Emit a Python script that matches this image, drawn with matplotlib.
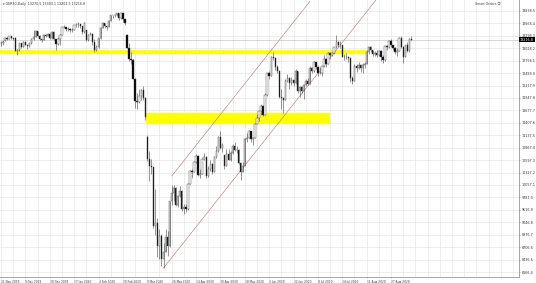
import matplotlib
matplotlib.use('Agg')
import matplotlib.pyplot as plt
import matplotlib.transforms as mtransforms

# daily candles, GER30 (one bar per trading day)
opens = [13150, 13137, 13200, 13246, 13232, 13287, 13245, 13250, 12964, 12989, 13140, 13055,
         13166, 13105, 13071, 13141, 13221, 13283, 13407, 13288, 13222, 13212, 13319, 13300,
         13337, 13249, 13386, 13219, 13127, 13227, 13321, 13495, 13483, 13452, 13456, 13432,
         13429, 13526, 13548, 13556, 13515, 13388, 13420, 13205, 13324, 13345, 13157, 12982,
         13046, 13250, 13479, 13575, 13514, 13494, 13627, 13749, 13745, 13744, 13784, 13681,
         13789, 13664, 13320, 13035, 12790, 12774, 12367, 11890, 11857, 11985, 12128, 11944,
         11100, 10625, 10475, 10439, 9161, 9232, 8742, 8939, 8441, 8610, 8929, 8741,
         9701, 9874, 10000, 9633, 9815, 9936, 9544, 9571, 9525, 10075, 10356, 10333,
         10565, 10696, 10280, 10301, 10626, 10676, 10250, 10415, 10514, 10336, 10660, 10796,
         11108, 10862, 10700, 10467, 10730, 10606, 10759, 10904, 10825, 10820, 10543, 10337,
         10465, 11059, 11075, 11224, 11066, 11074, 11391, 11505, 11657, 11781, 11587, 12021,
         12487, 12431, 12848, 12820, 12617, 12530, 11970, 11949, 11911, 12316, 12382, 12282,
         12331, 12263, 12524, 12094, 12178, 12089, 12232, 12311, 12260, 12608, 12528, 12733,
         12617, 12494, 12489, 12633, 12800, 12697, 12931, 12874, 12920, 13046, 13171, 13104,
         13103, 12838, 12839, 12836, 12822, 12379, 12313, 12647, 12600, 12660, 12591, 12674,
         12687, 12947, 13058, 12993, 12901, 12920, 12881, 12977, 12830, 12765, 13067, 13062,
         13190, 13096, 13033, 12945, 12974, 13243, 13057, 12843, 13100, 12968, 13237]
highs = [13190, 13200, 13260, 13270, 13300, 13290, 13260, 13280, 13010, 13150, 13150, 13190,
         13190, 13120, 13160, 13260, 13420, 13430, 13410, 13310, 13240, 13330, 13340, 13360,
         13350, 13400, 13400, 13230, 13280, 13330, 13500, 13530, 13490, 13480, 13470, 13460,
         13540, 13570, 13600, 13560, 13520, 13590, 13430, 13340, 13390, 13350, 13240, 13100,
         13260, 13490, 13590, 13580, 13520, 13640, 13760, 13760, 13770, 13790, 13790, 13800,
         13800, 13670, 13330, 13150, 12950, 12800, 12380, 12050, 12140, 12150, 12200, 11960,
         11150, 10800, 10620, 10450, 9980, 9330, 9100, 9000, 8800, 9100, 9050, 9720,
         10050, 10050, 10020, 9830, 10040, 9950, 9650, 9650, 10100, 10380, 10400, 10580,
         10720, 10700, 10400, 10650, 10750, 10680, 10460, 10600, 10530, 10680, 10900, 11130,
         11220, 10960, 10710, 10830, 10830, 10800, 10950, 10990, 10900, 10850, 10560, 10560,
         11080, 11180, 11260, 11230, 11100, 11400, 11600, 11670, 11820, 11800, 12050, 12500,
         12540, 12870, 12950, 12830, 12660, 12550, 12150, 11960, 12350, 12460, 12400, 12400,
         12350, 12580, 12530, 12200, 12200, 12250, 12350, 12380, 12640, 12620, 12750, 12740,
         12650, 12630, 12640, 12880, 12810, 12950, 12940, 12950, 13060, 13310, 13180, 13180,
         13110, 12900, 12920, 12860, 12830, 12420, 12680, 12680, 12720, 12680, 12700, 12730,
         13000, 13070, 13080, 13000, 12960, 12990, 13000, 12990, 12880, 13080, 13100, 13200,
         13230, 13100, 13050, 13030, 13280, 13300, 13080, 13110, 13160, 13250, 13300]
lows = [13080, 13100, 13190, 13200, 13220, 13220, 13200, 12960, 12880, 12970, 13030, 13050,
        13090, 13020, 13050, 13130, 13200, 13280, 13270, 13200, 13170, 13200, 13280, 13290,
        13230, 13240, 13200, 12990, 13110, 13100, 13310, 13460, 13410, 13400, 13380, 13390,
        13420, 13500, 13500, 13460, 13330, 13370, 13190, 13190, 13310, 13110, 12950, 12960,
        13040, 13240, 13460, 13470, 13430, 13490, 13620, 13690, 13710, 13730, 13650, 13670,
        13600, 13540, 13030, 12760, 12690, 12350, 11720, 11700, 11830, 11900, 11900, 11480,
        10580, 10150, 10300, 9130, 8980, 8500, 8440, 8300, 8255, 8600, 8520, 8700,
        9630, 9700, 9600, 9570, 9790, 9500, 9420, 9470, 9520, 10070, 10220, 10330,
        10530, 10250, 10210, 10290, 10600, 10200, 10240, 10370, 10290, 10330, 10640, 10780,
        10850, 10780, 10400, 10460, 10590, 10580, 10740, 10800, 10760, 10520, 10160, 10330,
        10460, 11000, 11070, 11000, 10920, 11070, 11380, 11450, 11570, 11550, 11580, 12000,
        12360, 12420, 12780, 12560, 12480, 11950, 11700, 11630, 11900, 12300, 12150, 12230,
        12200, 12250, 12060, 11980, 12050, 11930, 12200, 12240, 12250, 12500, 12520, 12570,
        12430, 12470, 12430, 12620, 12630, 12690, 12800, 12850, 12900, 13040, 13050, 13040,
        12830, 12770, 12800, 12740, 12300, 12250, 12310, 12520, 12570, 12510, 12480, 12600,
        12680, 12900, 12950, 12850, 12850, 12830, 12850, 12760, 12700, 12760, 12980, 13040,
        13050, 12980, 12900, 12850, 12960, 13030, 12710, 12830, 12950, 12950, 13200]
closes = [13137, 13163, 13246, 13232, 13287, 13245, 13236, 12964, 12989, 13140, 13055, 13166,
          13105, 13071, 13141, 13221, 13283, 13407, 13288, 13222, 13212, 13319, 13300, 13337,
          13249, 13386, 13219, 13127, 13227, 13321, 13495, 13483, 13452, 13456, 13432, 13429,
          13526, 13548, 13556, 13515, 13388, 13577, 13205, 13324, 13345, 13157, 12982, 13046,
          13250, 13479, 13575, 13514, 13494, 13627, 13749, 13745, 13744, 13784, 13681, 13789,
          13664, 13579, 13035, 12790, 12774, 12367, 11890, 11857, 11985, 12128, 11944, 11542,
          10625, 10475, 10439, 9161, 9232, 8742, 8939, 8441, 8610, 8929, 8741, 9701,
          9874, 10000, 9633, 9815, 9936, 9544, 9571, 9525, 10075, 10356, 10333, 10565,
          10696, 10280, 10301, 10626, 10676, 10250, 10415, 10514, 10336, 10660, 10796, 11108,
          10862, 10930, 10467, 10730, 10606, 10759, 10904, 10825, 10820, 10543, 10337, 10465,
          11059, 11075, 11224, 11066, 11074, 11391, 11505, 11657, 11781, 11587, 12021, 12487,
          12431, 12848, 12820, 12617, 12530, 11970, 11949, 11911, 12316, 12382, 12282, 12331,
          12263, 12524, 12094, 12178, 12089, 12232, 12311, 12260, 12608, 12528, 12733, 12617,
          12494, 12489, 12633, 12800, 12697, 12931, 12874, 12920, 13046, 13171, 13104, 13103,
          12838, 12839, 12836, 12822, 12379, 12313, 12647, 12600, 12660, 12591, 12674, 12687,
          12947, 13058, 12993, 12901, 12920, 12881, 12977, 12830, 12765, 13067, 13062, 13190,
          13096, 13033, 12945, 12974, 13243, 13057, 12843, 13100, 12968, 13237, 13217]

date_labels = ['21 Nov 2019', '9 Dec 2019', '30 Dec 2019', '17 Jan 2020', '4 Feb 2020',
               '20 Feb 2020', '9 Mar 2020', '26 Mar 2020', '14 Apr 2020', '30 Apr 2020',
               '18 May 2020', '4 Jun 2020', '22 Jun 2020', '8 Jul 2020', '24 Jul 2020',
               '11 Aug 2020', '27 Aug 2020']
price_ticks = [13838.5, 13568.4, 13298.3, 13028.2, 12758.1, 12488.0, 12217.9, 11947.8,
               11677.7, 11407.6, 11137.5, 10867.4, 10597.3, 10327.2, 10057.1, 9787.0,
               9516.9, 9246.8, 8976.7, 8706.6, 8436.5, 8166.4]

# drawn objects: yellow zones and the rising channel
resist_zone = (0, 180, 12900, 12995)      # start bar, end bar, low, high
support_zone = (71.5, 162, 11385, 11625)
channel_low = [(80, 8255), (185, 14100)]
channel_high = [(84, 10250), (152, 14044)]
last_price = 13216.8

fig = plt.figure(figsize=(5.36, 2.83), dpi=100)
ax = fig.add_axes([0, 0.0212, 0.9683, 0.9788])

# grid
for p in price_ticks:
    ax.axhline(p, color='#e8e8e8', lw=0.5, zorder=0)
for k in range(0, 256, 6):
    ax.axvline(k, color='#e8e8e8', lw=0.5, zorder=0)

# yellow zones
ax.fill_between([resist_zone[0] - 1, resist_zone[1]], resist_zone[2], resist_zone[3],
                color='#ffff00', lw=0, zorder=1)
ax.fill_between([support_zone[0], support_zone[1]], support_zone[2], support_zone[3],
                color='#ffff00', lw=0, zorder=1)

# channel
for line in (channel_low, channel_high):
    ax.plot([line[0][0], line[1][0]], [line[0][1], line[1][1]], color='#b88080', lw=0.45, zorder=2)

# candles
idx = list(range(len(closes)))
ax.vlines(idx, lows, highs, color='#444444', lw=0.4, zorder=3)
bodies = [c - o if c != o else 5 for o, c in zip(opens, closes)]
faces = ['white' if c >= o else 'black' for o, c in zip(opens, closes)]
ax.bar(idx, bodies, bottom=opens, width=0.65, color=faces, edgecolor='#444444', lw=0.3, zorder=4)

# bid line and price box
ax.axhline(last_price, color='#bbbbbb', lw=0.4, zorder=2)
trans = mtransforms.blended_transform_factory(ax.transAxes, ax.transData)
ax.text(1.002, last_price, f'{last_price:.1f}', transform=trans, fontsize=2.4, color='white',
        va='center', ha='left', clip_on=False,
        bbox=dict(boxstyle='square,pad=0.2', fc='black', ec='black', lw=0))

ax.text(0.006, 0.992, '\u25be GER30,Daily  13270.5 13303.1 13202.5 13216.8', transform=ax.transAxes,
        fontsize=2.3, va='top', ha='left', color='#333333')
ax.text(0.965, 0.992, 'Smart Orders \u24d8', transform=ax.transAxes,
        fontsize=2.3, va='top', ha='right', color='#444444',
        family=['DejaVu Sans', 'Noto Sans CJK JP'])

ax.set_xlim(-0.5, 255)
ax.set_ylim(8058, 14077)

ax.set_xticks(list(range(0, 12 * len(date_labels), 12)))
ax.set_xticklabels(date_labels, fontsize=2.1, ha='left', color='#333333')
ax.set_yticks(price_ticks)
ax.set_yticklabels([f'{p:.1f}' for p in price_ticks], fontsize=2.4, color='#333333')
ax.yaxis.tick_right()
ax.tick_params(axis='both', length=1.0, width=0.4, pad=0.8, colors='#777777', labelcolor='#333333')

for s in ('top', 'left'):
    ax.spines[s].set_visible(False)
for s in ('right', 'bottom'):
    ax.spines[s].set_color('#999999')
    ax.spines[s].set_linewidth(0.6)

fig.savefig('out.png', dpi=100)
